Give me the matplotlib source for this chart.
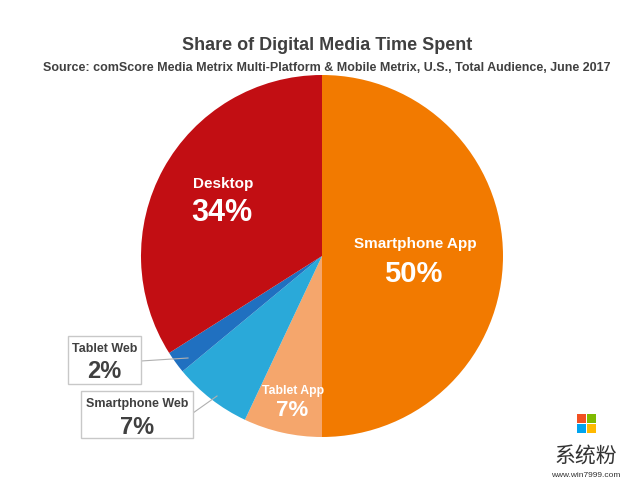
import matplotlib.pyplot as plt
from matplotlib.patches import Rectangle

plt.rcParams['font.family'] = ['Liberation Sans', 'DejaVu Sans']

# data
labels = ['Smartphone App', 'Tablet App', 'Smartphone Web', 'Tablet Web', 'Desktop']
shares = [50, 7, 7, 2, 34]
colors = ['#F27A00', '#F5A66C', '#2AA9D9', '#2070C0', '#C20E13']

title = 'Share of Digital Media Time Spent'
subtitle = ('Source: comScore Media Metrix Multi-Platform & Mobile Metrix, U.S., '
            'Total Audience, June 2017')

W, H = 630, 486
fig = plt.figure(figsize=(W / 100, H / 100), dpi=100)
ax = fig.add_axes([0, 0, 1, 1])

cx, cy, r = 322, H - 256, 181
ax.pie(shares, colors=colors, startangle=90, counterclock=False,
       center=(cx, cy), radius=r, frame=True,
       wedgeprops=dict(edgecolor='none', linewidth=0))
ax.set_xlim(0, W)
ax.set_ylim(0, H)
ax.set_aspect('equal')
ax.axis('off')

grey = '#404040'
ax.text(327, H - 46, title, ha='center', va='center',
        fontsize=13, fontweight='bold', color=grey)
ax.text(327, H - 68, subtitle, ha='center', va='center',
        fontsize=9, fontweight='bold', color=grey)

# labels inside the pie
ax.text(415, H - 244, labels[0], ha='center', va='center',
        fontsize=11, fontweight='bold', color='white')
ax.text(413, H - 274, f'{shares[0]}%', ha='center', va='center',
        fontsize=21, fontweight='bold', color='white')
ax.text(223, H - 184, labels[4], ha='center', va='center',
        fontsize=11, fontweight='bold', color='white')
ax.text(222, H - 213, f'{shares[4]}%', ha='center', va='center',
        fontsize=22, fontweight='bold', color='white')
ax.text(293, H - 391, labels[1], ha='center', va='center',
        fontsize=8.8, fontweight='bold', color='white')
ax.text(292, H - 410, f'{shares[1]}%', ha='center', va='center',
        fontsize=16, fontweight='bold', color='white')

# boxed callouts for the small slices
def callout(x0, y0, w, h, name, val, line_to):
    ax.add_patch(Rectangle((x0, H - y0 - h), w, h, facecolor='white',
                           edgecolor='#C8C8C8', linewidth=1, zorder=3))
    ax.text(x0 + w / 2, H - y0 - 13, name, ha='center', va='center',
            fontsize=9, fontweight='bold', color=grey, zorder=4)
    ax.text(x0 + w / 2, H - y0 - 36, val, ha='center', va='center',
            fontsize=17, fontweight='bold', color=grey, zorder=4)
    ax.plot([line_to[0][0], line_to[1][0]], [H - line_to[0][1], H - line_to[1][1]],
            color='#B0B0B0', linewidth=0.8, zorder=2)

callout(68, 336, 73, 48, labels[3], f'{shares[3]}%', ((141, 361), (188, 358)))
callout(81, 391, 112, 47, labels[2], f'{shares[2]}%', ((193, 413), (217, 396)))

# watermark
for (dx, dy), c in zip([(0, 0), (10, 0), (0, 10), (10, 10)],
                       ['#F25022', '#7FBA00', '#00A4EF', '#FFB900']):
    ax.add_patch(Rectangle((577 + dx, H - 423 - dy), 9, 9, facecolor=c,
                           edgecolor='none'))
ax.text(586, H - 456, '系统粉', ha='center', va='center', fontsize=15,
        color='#333333', family=['Noto Sans CJK SC', 'DejaVu Sans'])
ax.text(586, H - 475, 'www.win7999.com', ha='center', va='center',
        fontsize=6, color='#333333')

fig.savefig('out.png', dpi=100)
